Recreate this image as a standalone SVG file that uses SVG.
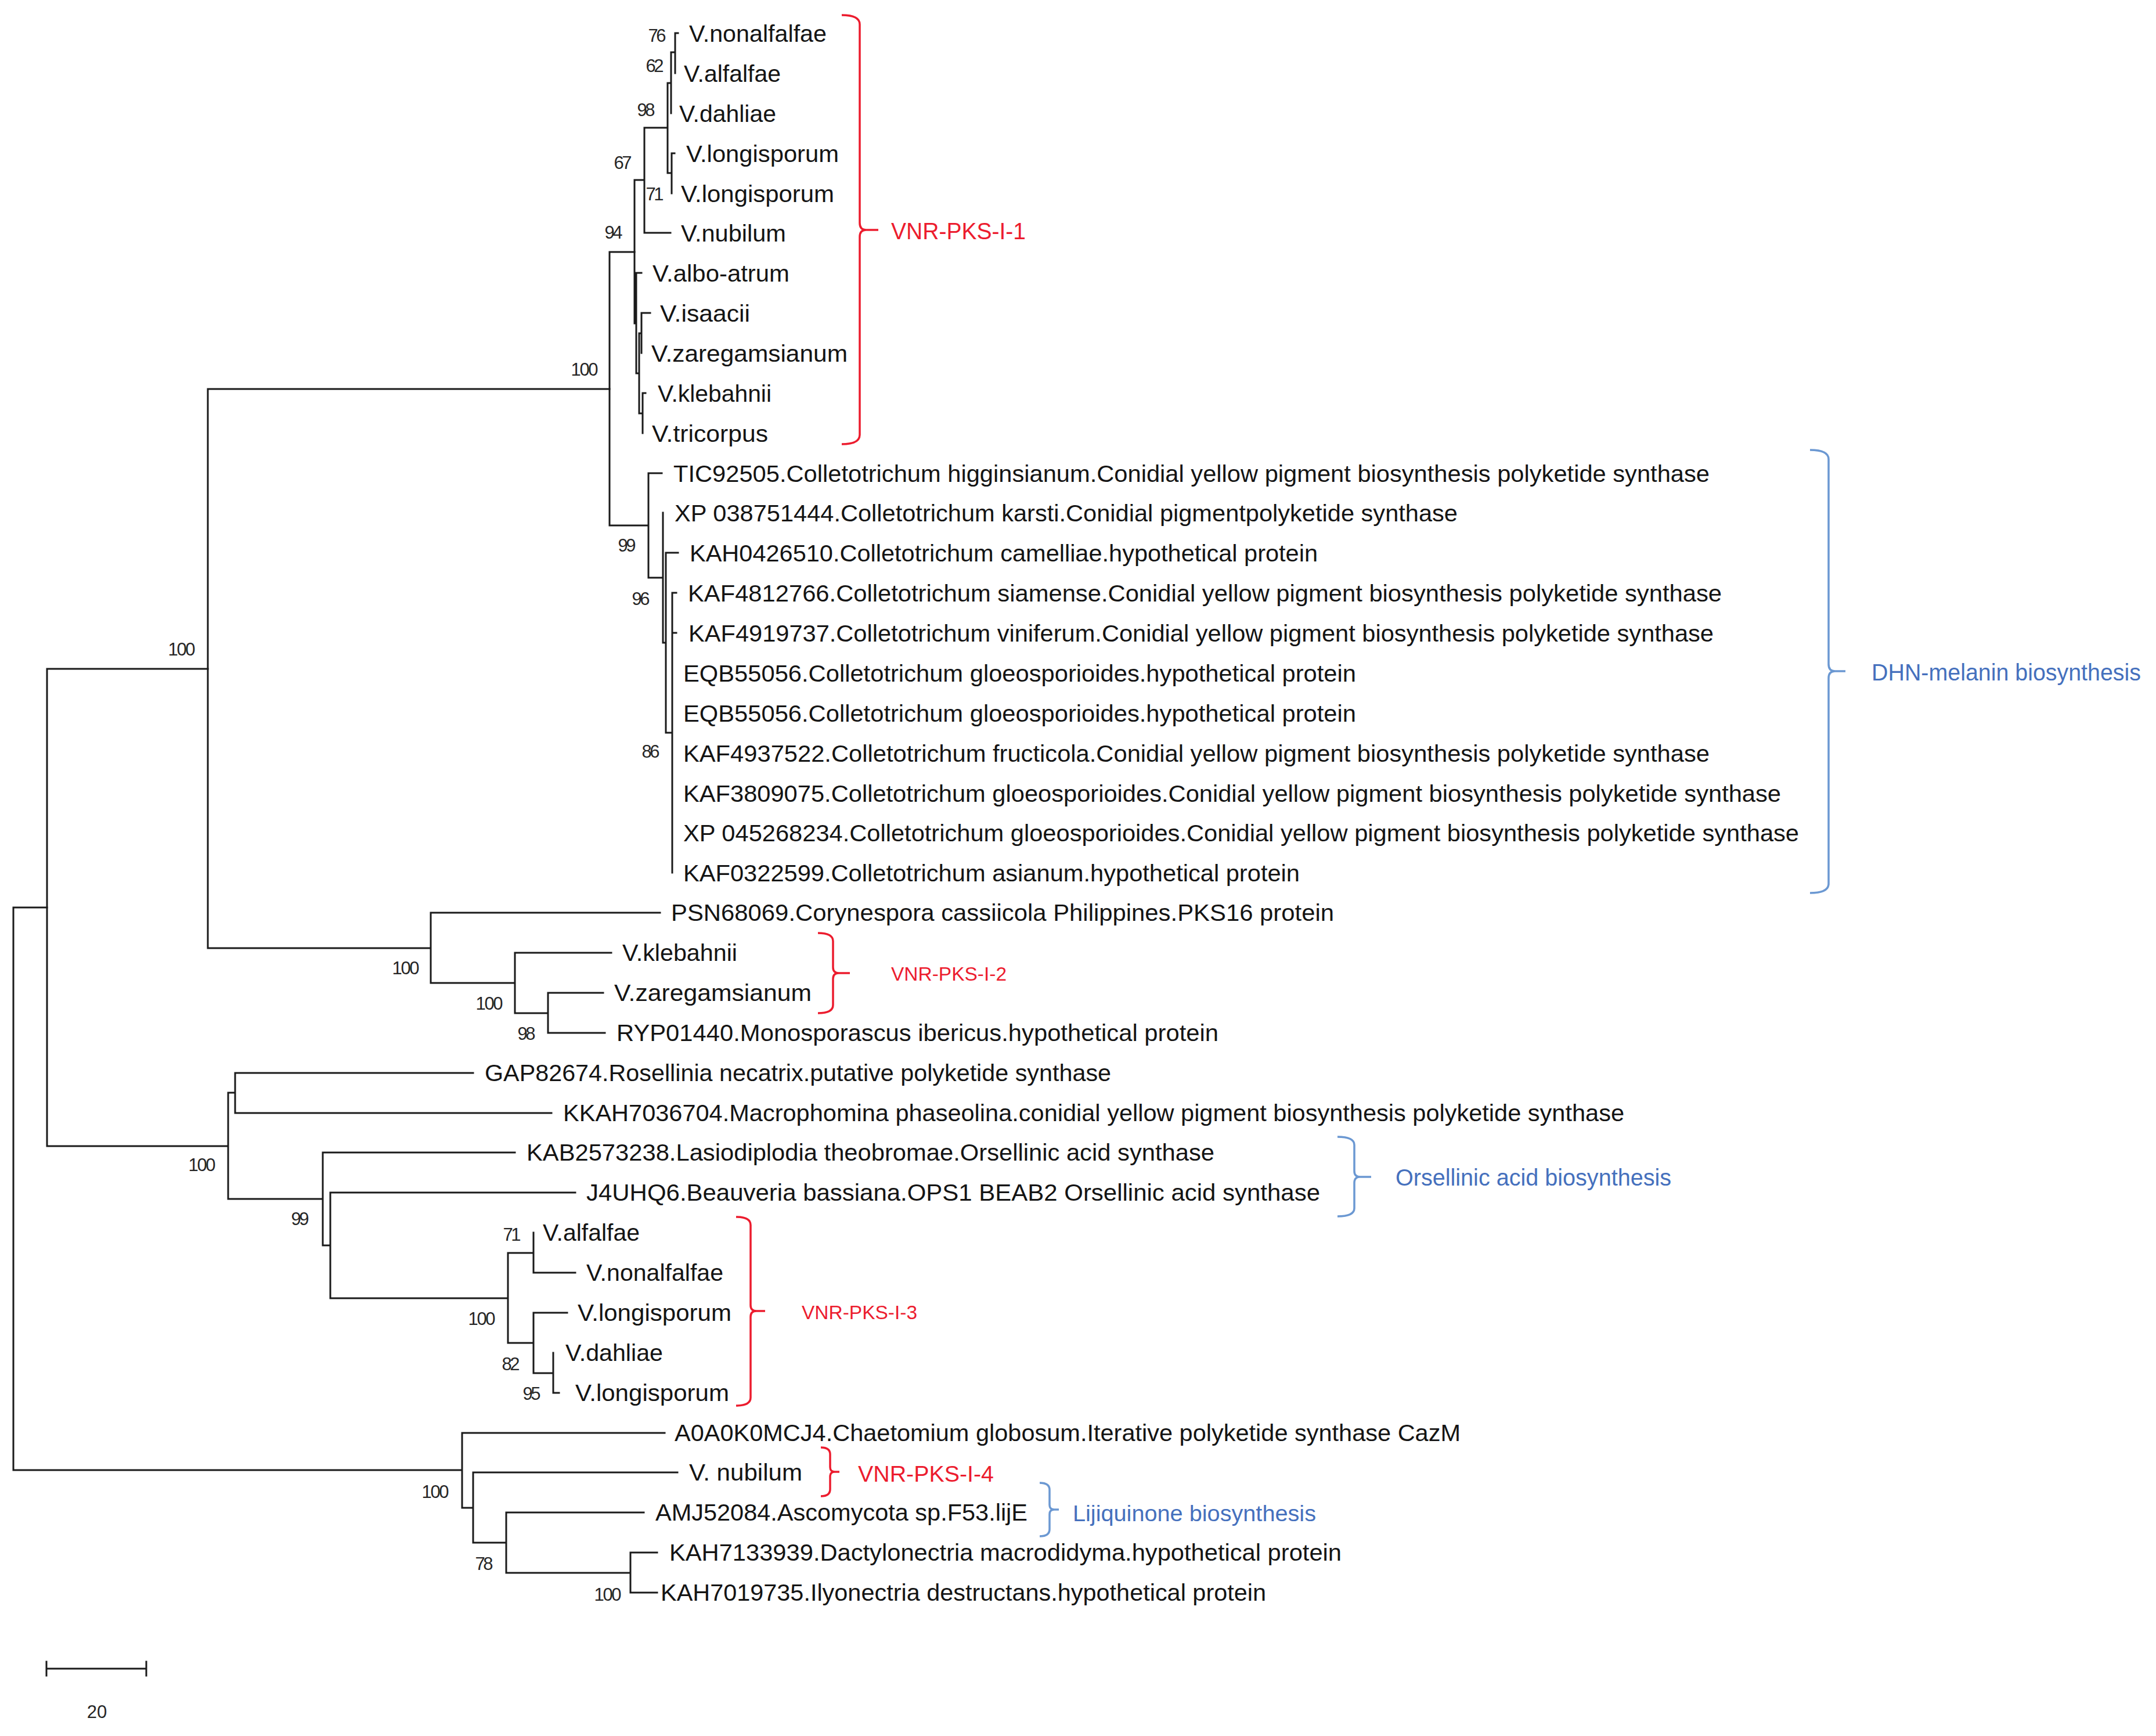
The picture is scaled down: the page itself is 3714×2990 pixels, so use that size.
<svg xmlns="http://www.w3.org/2000/svg" width="3714" height="2990" viewBox="0 0 3714 2990">
<style>
.br{stroke:#1a1a1a;stroke-width:3;fill:none;stroke-linecap:square}
.lb{font-family:"Liberation Sans",Arial,sans-serif;font-size:41px;fill:#141414}
.ln{font-family:"Liberation Sans",Arial,sans-serif;font-size:40px;fill:#141414}
.bs{font-family:"Liberation Sans",Arial,sans-serif;font-size:31px;fill:#262626;text-anchor:middle}
.rb{stroke:#ec1c2e;stroke-width:3.5;fill:none}
.bb{stroke:#6b98d2;stroke-width:3.5;fill:none}
.rt{font-family:"Liberation Sans",Arial,sans-serif;fill:#ec1c2e}
.bt{font-family:"Liberation Sans",Arial,sans-serif;fill:#4570bd}
</style>
<rect width="3714" height="2990" fill="#ffffff"/>
<g id="connectors">
<path class="br" d="M1163 57V126M1163 57H1168M1156 90H1163M1156 90V195M1157 264V333M1157 264H1162M1150 143H1156M1150 298H1157M1150 143V298M1110 220H1150M1110 220V401M1110 401H1155M1105 539V608M1105 539H1120M1107 677V746M1107 677H1112M1101 574V712M1101 574H1105M1101 712H1107M1096 470V643M1096 470H1105M1096 643H1101M1093 310V557M1093 310H1110M1093 557H1096"/>
<path class="br" d="M1158 1021V1503M1158 1021H1165M1158 1090H1165M1147 952V1262M1147 952H1168M1147 1262H1158M1142 883V1107M1142 1107H1147M1117 815V995M1117 815H1140M1117 995H1142M1050 434V905M1050 434H1093M1050 905H1117"/>
<path class="br" d="M944 1710V1779M944 1710H1039M944 1779H1042M887 1641V1745M887 1641H1053M887 1745H944M742 1572V1693M742 1572H1137M742 1693H887M358 670V1633M358 670H1050M358 1633H742"/>
<path class="br" d="M405 1848V1917M405 1848H815M405 1917H950M919 2123V2192M919 2192H991M953 2330V2399M953 2399H963M919 2261V2365M919 2261H977M919 2365H953M875 2158V2313M875 2158H919M875 2313H919M569 2054V2236M569 2054H991M569 2236H875M556 1985V2145M556 1985H887M556 2145H569M393 1882V2065M393 1882H405M393 2065H556M81 1152V1974M81 1152H358M81 1974H393"/>
<path class="br" d="M1086 2674V2743M1086 2674H1132M1086 2743H1132M872 2605V2709M872 2605H1109M872 2709H1086M815 2536V2657M815 2536H1167M815 2657H872M796 2468V2597M796 2468H1145M796 2597H815M23 1563V2532M23 1563H81M23 2532H796"/>
</g>
<g id="bootstrap">
<text class="bs" x="1132" y="72" textLength="31">76</text>
<text class="bs" x="1128" y="124" textLength="31">62</text>
<text class="bs" x="1113" y="200" textLength="31">98</text>
<text class="bs" x="1073" y="291" textLength="31">67</text>
<text class="bs" x="1128" y="345" textLength="31">71</text>
<text class="bs" x="1057" y="411" textLength="31">94</text>
<text class="bs" x="1007" y="647" textLength="47">100</text>
<text class="bs" x="1080" y="950" textLength="31">99</text>
<text class="bs" x="1104" y="1042" textLength="31">96</text>
<text class="bs" x="1121" y="1305" textLength="31">86</text>
<text class="bs" x="313" y="1129" textLength="47">100</text>
<text class="bs" x="699" y="1678" textLength="47">100</text>
<text class="bs" x="843" y="1739" textLength="47">100</text>
<text class="bs" x="907" y="1791" textLength="31">98</text>
<text class="bs" x="348" y="2017" textLength="47">100</text>
<text class="bs" x="517" y="2110" textLength="31">99</text>
<text class="bs" x="882" y="2137" textLength="31">71</text>
<text class="bs" x="830" y="2282" textLength="47">100</text>
<text class="bs" x="880" y="2360" textLength="31">82</text>
<text class="bs" x="916" y="2411" textLength="31">95</text>
<text class="bs" x="750" y="2580" textLength="47">100</text>
<text class="bs" x="834" y="2704" textLength="31">78</text>
<text class="bs" x="1047" y="2757" textLength="47">100</text>
</g>
<g id="leaf-0"><text class="lb" x="1187" y="72" textLength="237" lengthAdjust="spacingAndGlyphs">V.nonalfalfae</text></g>
<g id="leaf-1"><text class="lb" x="1178" y="141" textLength="167" lengthAdjust="spacingAndGlyphs">V.alfalfae</text></g>
<g id="leaf-2"><text class="lb" x="1170" y="210" textLength="167" lengthAdjust="spacingAndGlyphs">V.dahliae</text></g>
<g id="leaf-3"><text class="lb" x="1182" y="279" textLength="263" lengthAdjust="spacingAndGlyphs">V.longisporum</text></g>
<g id="leaf-4"><text class="lb" x="1173" y="348" textLength="264" lengthAdjust="spacingAndGlyphs">V.longisporum</text></g>
<g id="leaf-5"><text class="lb" x="1173" y="416" textLength="181" lengthAdjust="spacingAndGlyphs">V.nubilum</text></g>
<g id="leaf-6"><text class="lb" x="1124" y="485" textLength="236" lengthAdjust="spacingAndGlyphs">V.albo-atrum</text></g>
<g id="leaf-7"><text class="lb" x="1137" y="554" textLength="155" lengthAdjust="spacingAndGlyphs">V.isaacii</text></g>
<g id="leaf-8"><text class="lb" x="1122" y="623" textLength="338" lengthAdjust="spacingAndGlyphs">V.zaregamsianum</text></g>
<g id="leaf-9"><text class="lb" x="1133" y="692" textLength="196" lengthAdjust="spacingAndGlyphs">V.klebahnii</text></g>
<g id="leaf-10"><text class="lb" x="1123" y="761" textLength="200" lengthAdjust="spacingAndGlyphs">V.tricorpus</text></g>
<g id="leaf-11"><text class="lb" x="1160" y="830" textLength="1785" lengthAdjust="spacingAndGlyphs">TIC92505.Colletotrichum higginsianum.Conidial yellow pigment biosynthesis polyketide synthase</text></g>
<g id="leaf-12"><text class="lb" x="1162" y="898" textLength="1349" lengthAdjust="spacingAndGlyphs">XP 038751444.Colletotrichum karsti.Conidial pigmentpolyketide synthase</text></g>
<g id="leaf-13"><text class="lb" x="1188" y="967" textLength="1082" lengthAdjust="spacingAndGlyphs">KAH0426510.Colletotrichum camelliae.hypothetical protein</text></g>
<g id="leaf-14"><text class="lb" x="1185" y="1036" textLength="1781" lengthAdjust="spacingAndGlyphs">KAF4812766.Colletotrichum siamense.Conidial yellow pigment biosynthesis polyketide synthase</text></g>
<g id="leaf-15"><text class="lb" x="1186" y="1105" textLength="1766" lengthAdjust="spacingAndGlyphs">KAF4919737.Colletotrichum viniferum.Conidial yellow pigment biosynthesis polyketide synthase</text></g>
<g id="leaf-16"><text class="lb" x="1177" y="1174" textLength="1159" lengthAdjust="spacingAndGlyphs">EQB55056.Colletotrichum gloeosporioides.hypothetical protein</text></g>
<g id="leaf-17"><text class="lb" x="1177" y="1243" textLength="1159" lengthAdjust="spacingAndGlyphs">EQB55056.Colletotrichum gloeosporioides.hypothetical protein</text></g>
<g id="leaf-18"><text class="lb" x="1177" y="1312" textLength="1768" lengthAdjust="spacingAndGlyphs">KAF4937522.Colletotrichum fructicola.Conidial yellow pigment biosynthesis polyketide synthase</text></g>
<g id="leaf-19"><text class="lb" x="1177" y="1381" textLength="1891" lengthAdjust="spacingAndGlyphs">KAF3809075.Colletotrichum gloeosporioides.Conidial yellow pigment biosynthesis polyketide synthase</text></g>
<g id="leaf-20"><text class="lb" x="1177" y="1449" textLength="1922" lengthAdjust="spacingAndGlyphs">XP 045268234.Colletotrichum gloeosporioides.Conidial yellow pigment biosynthesis polyketide synthase</text></g>
<g id="leaf-21"><text class="lb" x="1177" y="1518" textLength="1062" lengthAdjust="spacingAndGlyphs">KAF0322599.Colletotrichum asianum.hypothetical protein</text></g>
<g id="leaf-22"><text class="ln" x="1156" y="1586" textLength="1142" lengthAdjust="spacingAndGlyphs">PSN68069.Corynespora cassiicola Philippines.PKS16 protein</text></g>
<g id="leaf-23"><text class="ln" x="1072" y="1655" textLength="198" lengthAdjust="spacingAndGlyphs">V.klebahnii</text></g>
<g id="leaf-24"><text class="ln" x="1058" y="1724" textLength="340" lengthAdjust="spacingAndGlyphs">V.zaregamsianum</text></g>
<g id="leaf-25"><text class="ln" x="1062" y="1793" textLength="1037" lengthAdjust="spacingAndGlyphs">RYP01440.Monosporascus ibericus.hypothetical protein</text></g>
<g id="leaf-26"><text class="ln" x="835" y="1862" textLength="1079" lengthAdjust="spacingAndGlyphs">GAP82674.Rosellinia necatrix.putative polyketide synthase</text></g>
<g id="leaf-27"><text class="ln" x="970" y="1931" textLength="1828" lengthAdjust="spacingAndGlyphs">KKAH7036704.Macrophomina phaseolina.conidial yellow pigment biosynthesis polyketide synthase</text></g>
<g id="leaf-28"><text class="ln" x="907" y="1999" textLength="1185" lengthAdjust="spacingAndGlyphs">KAB2573238.Lasiodiplodia theobromae.Orsellinic acid synthase</text></g>
<g id="leaf-29"><text class="ln" x="1010" y="2068" textLength="1264" lengthAdjust="spacingAndGlyphs">J4UHQ6.Beauveria bassiana.OPS1 BEAB2 Orsellinic acid synthase</text></g>
<g id="leaf-30"><text class="ln" x="935" y="2137" textLength="167" lengthAdjust="spacingAndGlyphs">V.alfalfae</text></g>
<g id="leaf-31"><text class="ln" x="1010" y="2206" textLength="236" lengthAdjust="spacingAndGlyphs">V.nonalfalfae</text></g>
<g id="leaf-32"><text class="ln" x="995" y="2275" textLength="265" lengthAdjust="spacingAndGlyphs">V.longisporum</text></g>
<g id="leaf-33"><text class="ln" x="974" y="2344" textLength="168" lengthAdjust="spacingAndGlyphs">V.dahliae</text></g>
<g id="leaf-34"><text class="ln" x="991" y="2413" textLength="265" lengthAdjust="spacingAndGlyphs">V.longisporum</text></g>
<g id="leaf-35"><text class="ln" x="1162" y="2482" textLength="1354" lengthAdjust="spacingAndGlyphs">A0A0K0MCJ4.Chaetomium globosum.Iterative polyketide synthase CazM</text></g>
<g id="leaf-36"><text class="ln" x="1187" y="2550" textLength="195" lengthAdjust="spacingAndGlyphs">V. nubilum</text></g>
<g id="leaf-37"><text class="ln" x="1129" y="2619" textLength="641" lengthAdjust="spacingAndGlyphs">AMJ52084.Ascomycota sp.F53.lijE</text></g>
<g id="leaf-38"><text class="ln" x="1153" y="2688" textLength="1158" lengthAdjust="spacingAndGlyphs">KAH7133939.Dactylonectria macrodidyma.hypothetical protein</text></g>
<g id="leaf-39"><text class="ln" x="1138" y="2757" textLength="1043" lengthAdjust="spacingAndGlyphs">KAH7019735.Ilyonectria destructans.hypothetical protein</text></g>
<g id="group-vnr1">
<path class="rb" d="M1450 26Q1481 26 1481 42V384Q1481 396 1492 396Q1481 396 1481 408V749Q1481 765 1450 765M1490 396H1513"/>
<text class="rt" x="1535" y="412" font-size="40" textLength="232" lengthAdjust="spacingAndGlyphs">VNR-PKS-I-1</text>
</g>
<g id="group-dhn">
<path class="bb" d="M3118 775Q3150 775 3150 791V1144Q3150 1156 3161 1156Q3150 1156 3150 1168V1522Q3150 1538 3118 1538M3159 1156H3179"/>
<text class="bt" x="3224" y="1172" font-size="40" textLength="464" lengthAdjust="spacingAndGlyphs">DHN-melanin biosynthesis</text>
</g>
<g id="group-vnr2">
<path class="rb" d="M1409 1607Q1435 1607 1435 1621V1666Q1435 1676 1445 1676Q1435 1676 1435 1686V1731Q1435 1745 1409 1745M1443 1676H1464"/>
<text class="rt" x="1535" y="1689" font-size="34" textLength="199" lengthAdjust="spacingAndGlyphs">VNR-PKS-I-2</text>
</g>
<g id="group-orsellinic">
<path class="bb" d="M2304 1958Q2333 1958 2333 1972V2017Q2333 2027 2343 2027Q2333 2027 2333 2037V2081Q2333 2095 2304 2095M2341 2027H2362"/>
<text class="bt" x="2404" y="2042" font-size="40" textLength="475" lengthAdjust="spacingAndGlyphs">Orsellinic acid biosynthesis</text>
</g>
<g id="group-vnr3">
<path class="rb" d="M1268 2096Q1293 2096 1293 2110V2248Q1293 2258 1303 2258Q1293 2258 1293 2268V2407Q1293 2421 1268 2421M1301 2258H1318"/>
<text class="rt" x="1381" y="2272" font-size="34" textLength="199" lengthAdjust="spacingAndGlyphs">VNR-PKS-I-3</text>
</g>
<g id="group-vnr4">
<path class="rb" d="M1414 2493Q1430 2493 1430 2505V2527Q1430 2535 1438 2535Q1430 2535 1430 2543V2565Q1430 2577 1414 2577M1436 2535H1446"/>
<text class="rt" x="1478" y="2552" font-size="38" textLength="234" lengthAdjust="spacingAndGlyphs">VNR-PKS-I-4</text>
</g>
<g id="group-lijiquinone">
<path class="bb" d="M1791 2554Q1808 2554 1808 2566V2592Q1808 2600 1816 2600Q1808 2600 1808 2608V2634Q1808 2646 1791 2646M1814 2600H1824"/>
<text class="bt" x="1848" y="2620" font-size="38" textLength="419" lengthAdjust="spacingAndGlyphs">Lijiquinone biosynthesis</text>
</g>
<g id="scale-bar">
<path class="br" d="M80 2874H252M80 2862V2886M252 2862V2886"/>
<text class="bs" x="167" y="2959">20</text>
</g>
</svg>
